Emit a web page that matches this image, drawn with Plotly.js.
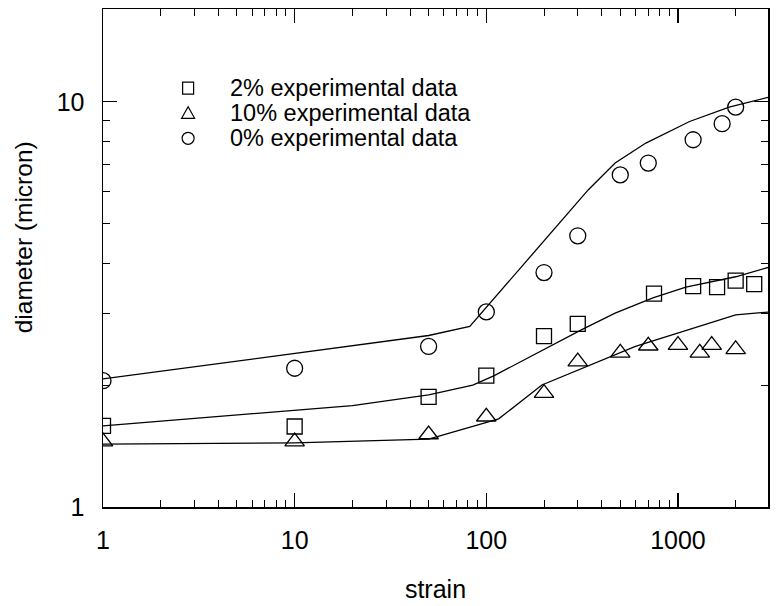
<!DOCTYPE html>
<html><head><meta charset="utf-8">
<script src="https://cdn.plot.ly/plotly-3.0.1.min.js"></script>
<style>html,body{margin:0;padding:0;background:#fff}</style>
</head><body>
<div id="chart" style="width:777px;height:606px"></div>
<script>
// Experimental data
const strain2 = [1, 10, 50, 100, 200, 300, 750, 1200, 1600, 2000, 2500];
const diam2   = [1.585, 1.58, 1.87, 2.11, 2.64, 2.83, 3.36, 3.51, 3.49, 3.62, 3.55];
const strain10 = [1, 10, 50, 100, 200, 300, 500, 700, 1000, 1300, 1500, 2000];
const diam10   = [1.45, 1.45, 1.51, 1.67, 1.91, 2.285, 2.40, 2.50, 2.51, 2.40, 2.51, 2.45];
const strain0 = [1, 10, 50, 100, 200, 300, 500, 700, 1200, 1700, 2000];
const diam0   = [2.05, 2.20, 2.49, 3.03, 3.79, 4.67, 6.6, 7.06, 8.06, 8.83, 9.7];
// Model curves
const fitStrain2 = [1, 10, 20, 50, 85, 110, 315, 470, 740, 1100, 2000, 3000];
const fitDiam2   = [1.585, 1.73, 1.78, 1.89, 2.0, 2.11, 2.74, 3.01, 3.28, 3.49, 3.70, 3.91];
const fitStrain10 = [1, 10, 50, 116, 195, 330, 600, 2000, 3000];
const fitDiam10   = [1.43, 1.44, 1.47, 1.65, 2.0, 2.22, 2.49, 2.98, 3.03];
const fitStrain0 = [1, 10, 50, 82, 340, 470, 680, 1150, 1850, 3000];
const fitDiam0   = [2.07, 2.40, 2.65, 2.79, 6.06, 7.06, 7.91, 8.94, 9.7, 10.27];
// Labels
const seriesNames = ['2% experimental data', '10% experimental data', '0% experimental data'];
const xTickVals = [1, 10, 100, 1000];
const xTickText = ['1', '10', '100', '1000'];
const yTickVals = [1, 10];
const yTickText = ['1', '10'];
const xTitle = 'strain';
const yTitle = 'diameter (micron)';

const FONT = 'Liberation Sans, Arial, Helvetica, sans-serif';
function minorVals(maxDec){ const v=[]; for(let d=0; d<maxDec; d++){ for(let k=2;k<=9;k++){ v.push(k*Math.pow(10,d)); } } return v; }

function lineTrace(x,y){ return {x:x, y:y, mode:'lines', type:'scatter', line:{color:'#000', width:1.3}, showlegend:false, hoverinfo:'skip'}; }
function markTrace(x,y,sym,size,name){ return {x:x, y:y, mode:'markers', type:'scatter', name:name,
  marker:{symbol:sym, size:size, color:'#000', line:{color:'#000', width:1.3}}, showlegend:false}; }

const data = [
  lineTrace(fitStrain2, fitDiam2),
  lineTrace(fitStrain10, fitDiam10),
  lineTrace(fitStrain0, fitDiam0),
  markTrace(strain2, diam2, 'square-open', 15, seriesNames[0]),
  markTrace(strain10, diam10, 'triangle-up-open', 17, seriesNames[1]),
  markTrace(strain0, diam0, 'circle-open', 16, seriesNames[2])
];

// legend key (layout decoration)
const kx = 0.128, rows = [0.841, 0.7906, 0.7404];
const keyLine = {color:'#000', width:1.2};
const shapes = [
  {type:'rect', xref:'paper', yref:'paper', xsizemode:'pixel', ysizemode:'pixel', xanchor:kx, yanchor:rows[0], x0:-5.5, x1:5.5, y0:-6, y1:6, line:keyLine},
  {type:'path', xref:'paper', yref:'paper', xsizemode:'pixel', ysizemode:'pixel', xanchor:kx, yanchor:rows[1], path:'M -6.5,-5 L 6.5,-5 L 0,6.5 Z', line:keyLine},
  {type:'circle', xref:'paper', yref:'paper', xsizemode:'pixel', ysizemode:'pixel', xanchor:kx, yanchor:rows[2], x0:-6, x1:6, y0:-6, y1:6, line:keyLine}
];
const annotations = seriesNames.map((t,i)=>({text:t, xref:'paper', yref:'paper', x:0.188, y:rows[i], xanchor:'left', yanchor:'middle', showarrow:false, font:{family:FONT, size:23.5, color:'#000'}}));
annotations.push({text:yTitle, xref:'paper', yref:'paper', x:-0.12, y:0.542, xanchor:'center', yanchor:'middle', textangle:-90, showarrow:false, font:{family:FONT, size:24.5, color:'#000'}});

const axisCommon = {showline:true, linecolor:'#000', linewidth:1.5, mirror:'allticks', ticks:'inside', ticklen:14, tickwidth:1.2, tickcolor:'#000', showgrid:false, zeroline:false, tickfont:{family:FONT, size:25, color:'#000'}};

const layout = {
  width:777, height:606,
  margin:{l:103, r:9, t:9, b:99, pad:0},
  paper_bgcolor:'#fff', plot_bgcolor:'#fff',
  showlegend:false,
  font:{family:FONT, color:'#000'},
  xaxis: Object.assign({}, axisCommon, {type:'log', range:[0, Math.log10(2950)], tickmode:'array', tickvals:xTickVals, ticktext:xTickText, ticklabelstandoff:10,
    minor:{tickmode:'array', tickvals:minorVals(4), ticks:'inside', ticklen:7, tickwidth:1, tickcolor:'#000', showgrid:false},
    title:{text:xTitle, font:{family:FONT, size:25, color:'#000'}, standoff:28}}),
  yaxis: Object.assign({}, axisCommon, {type:'log', range:[0, 1.229], tickmode:'array', tickvals:yTickVals, ticktext:yTickText, ticklabelstandoff:12,
    minor:{tickmode:'array', tickvals:minorVals(1), ticks:'inside', ticklen:7, tickwidth:1, tickcolor:'#000', showgrid:false}}),
  shapes: shapes,
  annotations: annotations
};
Plotly.newPlot('chart', data, layout, {displayModeBar:false, staticPlot:true});
</script>
</body></html>
